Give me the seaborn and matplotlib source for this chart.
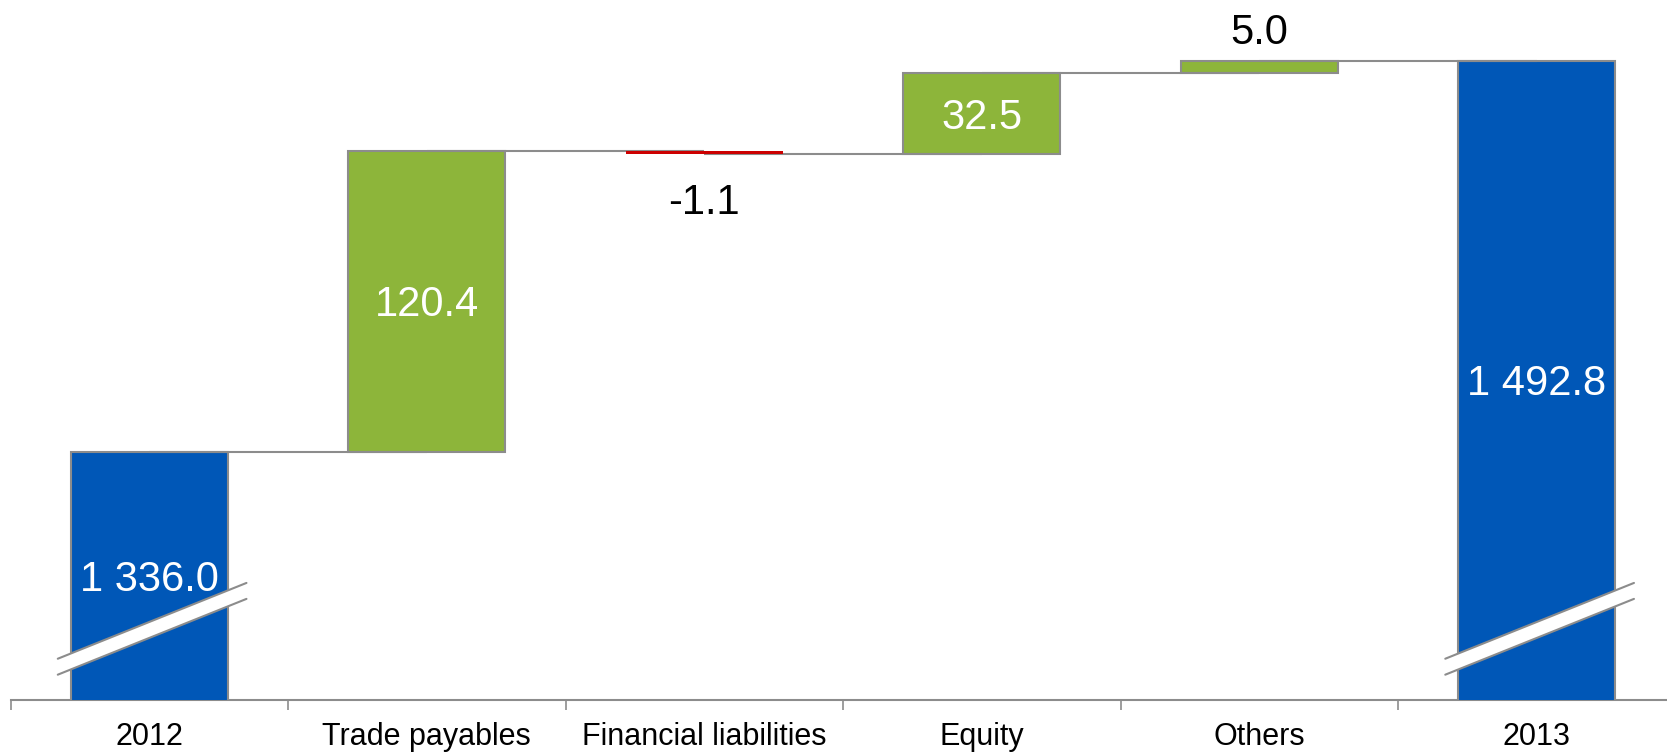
import numpy as np
import pandas as pd
import seaborn as sns
import matplotlib.pyplot as plt
from matplotlib.patches import Polygon

categories = ["2012", "Trade payables", "Financial liabilities", "Equity", "Others", "2013"]
start_value = 1336.0
changes = [120.4, -1.1, 32.5, 5.0]
end_value = 1492.8
value_labels = ["1 336.0", "120.4", "-1.1", "32.5", "5.0", "1 492.8"]

blue = "#0057B7"
green = "#8DB53A"
red = "#CC0000"
grey = "#8C8C8C"

# visible part of the (broken) value axis
ymin, ymax = 1236.4, 1517.1
bar_w = 0.566
lab_size = 30
half_cap = 0.358 * lab_size  # pt, half of digit height -> centre glyphs


def put_label(x, y, text, color, dy=0):
    ax.annotate(text, (x, y), xytext=(0, dy - half_cap), textcoords="offset points",
                fontsize=lab_size, ha="center", va="baseline", color=color, zorder=5)


sns.set_theme(style="white")
plt.rcParams["font.family"] = ["Liberation Sans", "DejaVu Sans"]

fig = plt.figure(figsize=(16.67, 7.55), dpi=100)
ax = fig.add_axes([10.6 / 1667, 55 / 755, 1 - 10.6 / 1667, 700 / 755])

# start / end totals
totals = pd.DataFrame({"label": [categories[0], categories[-1]],
                       "value": [start_value, end_value]})
sns.barplot(data=totals, x="label", y="value", order=categories, color=blue,
            saturation=1, width=bar_w, edgecolor=grey, linewidth=1.5,
            ax=ax, zorder=3)

# floating change bars (negative ones drawn over the connector lines)
levels = start_value + np.concatenate([[0], np.cumsum(changes)])
for i, c in enumerate(changes):
    if c > 0:
        ax.bar(i + 1, c, bottom=levels[i], width=bar_w, color=green,
               edgecolor=grey, linewidth=1.5, zorder=3)
    else:
        ax.bar(i + 1, c, bottom=levels[i], width=bar_w, color=red,
               linewidth=0, zorder=4.5)

# connector lines
for i, lvl in enumerate(levels):
    ax.plot([i, i + 1], [lvl, lvl], color=grey, lw=1.5, zorder=4,
            solid_capstyle="butt")

# value labels
put_label(0, (ymin + start_value) / 2, value_labels[0], "white")
put_label(5, (ymin + end_value) / 2, value_labels[-1], "white")
for i, c in enumerate(changes):
    lo, hi = sorted([levels[i], levels[i + 1]])
    lab = value_labels[i + 1]
    if abs(c) > 15:
        put_label(i + 1, (lo + hi) / 2, lab, "white")
    elif c > 0:
        put_label(i + 1, hi, lab, "black", dy=22.8)
    else:
        put_label(i + 1, lo, lab, "black", dy=-32.5)

# axis break marks on the total bars
slope, gap = 44.7, 6.4
for xc in [0, 5]:
    yc = 1264.5
    xl, xr = xc - 0.33, xc + 0.35
    yl, yr = yc + slope * (xl - xc), yc + slope * (xr - xc)
    poly = Polygon([(xl, yl - gap / 2), (xr, yr - gap / 2),
                    (xr, yr + gap / 2), (xl, yl + gap / 2)],
                   closed=True, facecolor="white", edgecolor="none", zorder=6)
    ax.add_patch(poly)
    for d in (-gap / 2, gap / 2):
        ax.plot([xl, xr], [yl + d, yr + d], color=grey, lw=1.5, zorder=7)

ax.set_xlim(-0.5, -0.5 + (1667 - 10.6) / 277.5)
ax.set_ylim(ymin, ymax)
ax.set_yticks([])
ax.set_xticks(range(len(categories)))
ax.set_xticklabels(categories, fontsize=22, color="black")
ax.set_xticks(np.arange(-0.5, len(categories) - 0.5), minor=True)
ax.tick_params(axis="x", which="major", length=0, pad=16)
ax.tick_params(axis="x", which="minor", length=7.2, width=1.2, color=grey,
               direction="out", bottom=True)
ax.set_xlabel("")
ax.set_ylabel("")
sns.despine(ax=ax, left=True)
ax.spines["bottom"].set_color(grey)
ax.spines["bottom"].set_linewidth(1.5)

fig.savefig("out.png", dpi=100)
